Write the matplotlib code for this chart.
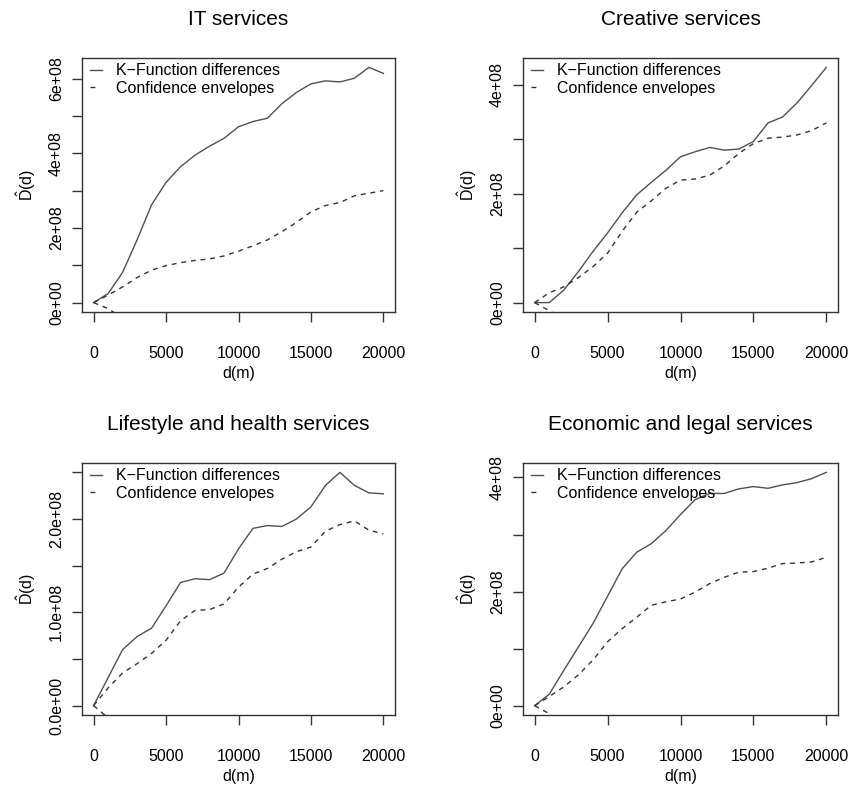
import matplotlib
matplotlib.use("Agg")
import matplotlib.pyplot as plt
from matplotlib.lines import Line2D

plt.rcParams['font.family'] = ['Liberation Sans', 'DejaVu Sans']
plt.rcParams['mathtext.fontset'] = 'custom'
plt.rcParams['mathtext.rm'] = 'Liberation Sans'
plt.rcParams['mathtext.it'] = 'Liberation Sans'

# distances (m)
d = [0, 1000, 2000, 3000, 4000, 5000, 6000, 7000, 8000, 9000, 10000,
     11000, 12000, 13000, 14000, 15000, 16000, 17000, 18000, 19000, 20000]

titles = ["IT services", "Creative services",
          "Lifestyle and health services", "Economic and legal services"]

# K-function differences, in units of 1e8
it_kdiff = [0, 0.24, 0.81, 1.68, 2.62, 3.22, 3.64, 3.95, 4.19, 4.40, 4.71,
            4.85, 4.94, 5.33, 5.63, 5.86, 5.94, 5.91, 6.01, 6.30, 6.14]
it_upper = [0, 0.20, 0.42, 0.67, 0.87, 0.99, 1.07, 1.13, 1.17, 1.25, 1.38,
            1.52, 1.68, 1.90, 2.15, 2.43, 2.60, 2.68, 2.86, 2.93, 3.00]
it_lower = [0, -0.16, -0.42, -0.67, -0.87, -0.99, -1.07, -1.13, -1.17, -1.25, -1.38,
            -1.52, -1.68, -1.90, -2.15, -2.43, -2.60, -2.68, -2.86, -2.93, -3.00]

cr_kdiff = [0, 0.0, 0.23, 0.57, 0.94, 1.28, 1.65, 1.98, 2.21, 2.43, 2.68,
            2.77, 2.85, 2.80, 2.82, 2.96, 3.30, 3.41, 3.67, 3.99, 4.32]
cr_upper = [0, 0.18, 0.29, 0.46, 0.66, 0.91, 1.31, 1.66, 1.87, 2.10, 2.25,
            2.27, 2.34, 2.51, 2.74, 2.92, 3.02, 3.04, 3.08, 3.16, 3.30]
cr_lower = [0, -0.15, -0.30, -0.46, -0.66, -0.91, -1.31, -1.66, -1.87, -2.10, -2.25,
            -2.27, -2.34, -2.51, -2.74, -2.92, -3.02, -3.04, -3.08, -3.16, -3.30]

lh_kdiff = [0, 0.30, 0.60, 0.74, 0.83, 1.07, 1.32, 1.36, 1.35, 1.42, 1.68,
            1.90, 1.93, 1.92, 2.00, 2.13, 2.36, 2.50, 2.36, 2.28, 2.27]
lh_upper = [0, 0.19, 0.35, 0.45, 0.56, 0.70, 0.91, 1.02, 1.03, 1.09, 1.27,
            1.41, 1.47, 1.57, 1.65, 1.70, 1.87, 1.94, 1.98, 1.88, 1.84]
lh_lower = [0, -0.13, -0.35, -0.45, -0.56, -0.70, -0.91, -1.02, -1.03, -1.09, -1.27,
            -1.41, -1.47, -1.57, -1.65, -1.70, -1.87, -1.94, -1.98, -1.88, -1.84]

el_kdiff = [0, 0.20, 0.62, 1.03, 1.44, 1.92, 2.40, 2.69, 2.84, 3.07, 3.35,
            3.61, 3.72, 3.72, 3.80, 3.84, 3.81, 3.87, 3.91, 3.98, 4.09]
el_upper = [0, 0.16, 0.33, 0.54, 0.80, 1.12, 1.35, 1.55, 1.76, 1.82, 1.87,
            1.99, 2.14, 2.25, 2.34, 2.35, 2.41, 2.49, 2.50, 2.52, 2.60]
el_lower = [0, -0.14, -0.33, -0.54, -0.80, -1.12, -1.35, -1.55, -1.76, -1.82, -1.87,
            -1.99, -2.14, -2.25, -2.34, -2.35, -2.41, -2.49, -2.50, -2.52, -2.60]

kdiffs = [it_kdiff, cr_kdiff, lh_kdiff, el_kdiff]
uppers = [it_upper, cr_upper, lh_upper, el_upper]
lowers = [it_lower, cr_lower, lh_lower, el_lower]

# y ticks (1e8) and their labels per panel
yticks = [[0, 1, 2, 3, 4, 5, 6], [0, 1, 2, 3, 4], [0, 0.5, 1.0, 1.5, 2.0, 2.5], [0, 1, 2, 3, 4]]
ylabels = [["0e+00", "", "2e+08", "", "4e+08", "", "6e+08"],
           ["0e+00", "", "2e+08", "", "4e+08"],
           ["0.0e+00", "", "1.0e+08", "", "2.0e+08", ""],
           ["0e+00", "", "2e+08", "", "4e+08"]]
xticks = [0, 5000, 10000, 15000, 20000]
legend_labels = ["K\u2212Function differences", "Confidence envelopes"]

W, H = 852, 788
fig = plt.figure(figsize=(W / 100, H / 100), dpi=100)
boxes = [(82, 58, 395, 312), (523, 58, 838, 312), (82, 463, 395, 715), (523, 463, 838, 715)]

ink = '#333333'
solid_col = '#505050'
dash = (0, (3.5, 3.5))
for i in range(4):
    l, t, r, b = boxes[i]
    ax = fig.add_axes([l / W, (H - b) / H, (r - l) / W, (b - t) / H])
    k = [v * 1e8 for v in kdiffs[i]]
    up = [v * 1e8 for v in uppers[i]]
    lo = [v * 1e8 for v in lowers[i]]
    ax.plot(d, k, color=solid_col, lw=1.0)
    ax.plot(d, up, color=ink, lw=1.0, linestyle=dash)
    ax.plot(d, lo, color=ink, lw=1.0, linestyle=dash)

    # R style 4% padding from the plotted series
    xr = max(d) - min(d)
    ax.set_xlim(min(d) - 0.04 * xr, max(d) + 0.04 * xr)
    yr = max(k) - min(k)
    ax.set_ylim(min(k) - 0.04 * yr, max(k) + 0.04 * yr)

    ax.set_xticks(xticks)
    ax.set_xticklabels([str(x) for x in xticks])
    ax.set_yticks([v * 1e8 for v in yticks[i]])
    ax.set_yticklabels(ylabels[i], rotation=90, va='center')

    for s in ax.spines.values():
        s.set_color(ink)
        s.set_linewidth(1.0)
    ax.tick_params(axis='both', direction='out', length=7, width=1.0, color=ink,
                   labelsize=11.5, labelcolor='black')
    ax.tick_params(axis='x', pad=17.5)
    ax.tick_params(axis='y', pad=6)

    ax.set_title(titles[i], fontsize=15, pad=24)
    ax.set_xlabel("d(m)", fontsize=11.5)
    ax.set_ylabel(r"$\hat{\mathrm{D}}\mathrm{(d)}$", fontsize=11.5)
    # fixed margin lines like R's mgp
    ax.xaxis.set_label_coords(0.5, -61.5 / (b - t))
    ax.yaxis.set_label_coords(-56.0 / (r - l), 0.5)
    ax.xaxis.label.set_va('center')
    ax.yaxis.label.set_va('center')

    # legend keys as R draws them: short solid stroke, a single dash
    handles = [Line2D([], [], color=solid_col, lw=1.0),
               Line2D([], [], color=ink, lw=1.0, linestyle=(0, (3.5, 20)))]
    ax.legend(handles, legend_labels, loc='upper left', bbox_to_anchor=(0.0, 1.01),
              frameon=False, fontsize=11.5, handlelength=0.75, handletextpad=0.9,
              labelspacing=0.15, borderpad=0.3, borderaxespad=0.2)

fig.savefig("out.png", dpi=100)
